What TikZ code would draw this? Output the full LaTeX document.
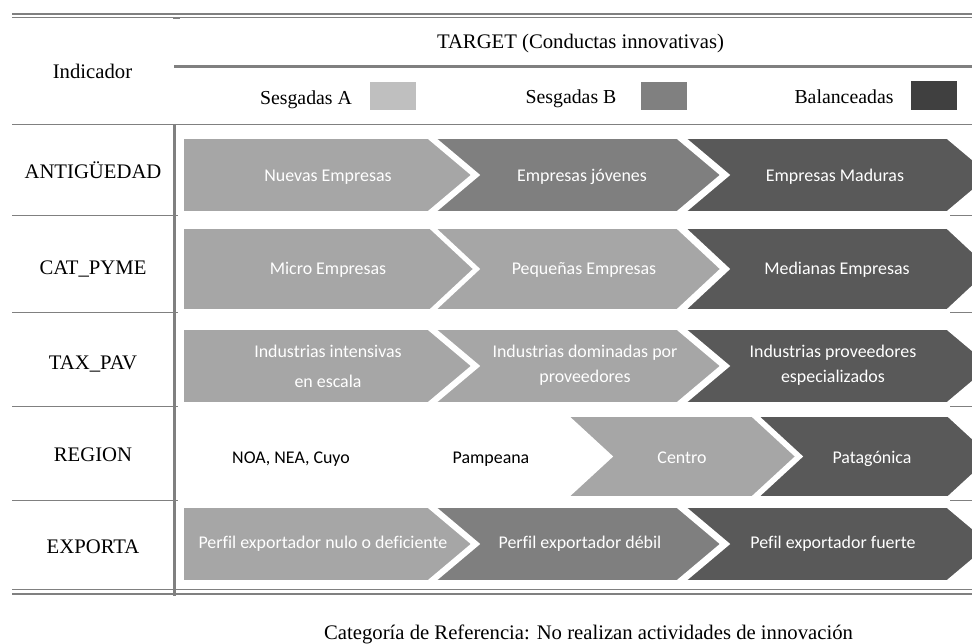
\documentclass[tikz,border=0pt]{standalone}
\usepackage{fontspec}
\setmainfont{Liberation Serif}
\newfontfamily\chevfont[Ligatures=NoCommon]{Carlito}
\definecolor{lightg}{HTML}{A6A6A6}
\definecolor{midg}{HTML}{7F7F7F}
\definecolor{darkg}{HTML}{595959}
\definecolor{legA}{HTML}{BFBFBF}
\definecolor{legB}{HTML}{808080}
\definecolor{legC}{HTML}{404040}
\definecolor{rulec}{HTML}{808080}
\tikzset{
  serif/.style={font=\fontsize{20.7}{24}\selectfont, text=black, inner sep=0pt, anchor=base},
  legtxt/.style={font=\fontsize{19.8}{24}\selectfont, text=black, inner sep=0pt, anchor=base},
  chevtxt/.style={font=\chevfont\fontsize{17.9}{21}\selectfont, text=white, inner sep=0pt, anchor=base},
  plaintxt/.style={font=\chevfont\fontsize{17.9}{21}\selectfont, text=black, inner sep=0pt, anchor=base},
  legbox/.style={minimum width=46pt, minimum height=28.5pt, inner sep=0pt, draw=none},
  chevshape/.style={draw=white, line width=1.6pt, line join=miter},
  rulethin/.style={draw=rulec, line width=0.9pt},
  rulemid/.style={draw=rulec, line width=1.5pt},
  rulethick/.style={draw=rulec, line width=2.4pt},
  rulebold/.style={draw=rulec, line width=3.2pt},
}
\newcommand\chevFlat[5]{\filldraw[chevshape, fill=#5] (#1,#3) -- (#2,#3) -- ({#2+44},{(#3+#4)/2}) -- (#2,#4) -- (#1,#4) -- cycle;}
\newcommand\chevNotch[5]{\filldraw[chevshape, fill=#5] (#1,#3) -- (#2,#3) -- ({#2+44},{(#3+#4)/2}) -- (#2,#4) -- (#1,#4) -- ({#1+44},{(#3+#4)/2}) -- cycle;}
\begin{document}
\begin{tikzpicture}[x=1pt,y=-1pt]
\useasboundingbox (0,0) rectangle (972,644);
\fill[white] (0,0) rectangle (972,644);
\begin{scope}
\clip (0,0) rectangle (972,644);
% ---------- rules ----------
\draw[rulethick] (12,13.8) -- (972,13.8);
\draw[rulethin] (12,17.3) -- (972,17.3);
\draw[rulec, line width=1pt] (173,18.8) -- (180,18.8);
\draw[rulebold] (174,66.7) -- (972,66.7);
\draw[rulemid] (12,124.3) -- (972,124.3);
\draw[rulebold] (174.7,124) -- (174.7,595.5);
\foreach \yy in {215.5,312,406,500}{
  \draw[rulethin] (12,\yy) -- (178,\yy);
  \draw[rulethin] (950,\yy) -- (972,\yy);
}
\draw[rulethin] (12,589) -- (972,589);
\draw[rulethick] (12,594.2) -- (972,594.2);
% ---------- header ----------
\node[serif] (ind) at (92.5,78.3) {Indicador};
\node[serif] (tgt) at (580.5,48.3) {TARGET (Conductas innovativas)};
\node[legtxt] (sa) at (306,104.5) {Sesgadas A};
\node[legbox, fill=legA] (sab) at (393,96) {};
\node[legtxt] (sb) at (571,104) {Sesgadas B};
\node[legbox, fill=legB] (sbb) at (664,96) {};
\node[legtxt] (bal) at (844,104) {Balanceadas};
\node[legbox, fill=legC] (balb) at (934,95.5) {};
% ---------- row labels ----------
\node[serif] (l1) at (93,178.3) {ANTIGÜEDAD};
\node[serif] (l2) at (93,275) {CAT\_PYME};
\node[serif] (l3) at (93,370) {TAX\_PAV};
\node[serif] (l4) at (93,461.7) {REGION};
\node[serif] (l5) at (93,553.3) {EXPORTA};
% ---------- row 1 ----------
\chevFlat{183}{428}{138}{212}{lightg}
\chevNotch{435}{677}{138}{212}{midg}
\chevNotch{685}{947}{138}{212}{darkg}
\node[chevtxt] (a1) at (328,181.5) {Nuevas Empresas};
\node[chevtxt] (a2) at (582,181.5) {Empresas jóvenes};
\node[chevtxt] (a3) at (835,181.5) {Empresas Maduras};
% ---------- row 2 ----------
\chevFlat{183}{430}{228}{310}{lightg}
\chevNotch{435}{677}{228}{310}{lightg}
\chevNotch{685}{947}{228}{310}{darkg}
\node[chevtxt] (b1) at (328,275) {Micro Empresas};
\node[chevtxt] (b2) at (584,275) {Pequeñas Empresas};
\node[chevtxt] (b3) at (837,275) {Medianas Empresas};
% ---------- row 3 ----------
\chevFlat{183}{428}{329}{403}{lightg}
\chevNotch{435}{677}{329}{403}{lightg}
\chevNotch{685}{947}{329}{403}{darkg}
\node[chevtxt] (c1a) at (328,358) {Industrias intensivas};
\node[chevtxt] (c1b) at (328,387) {en escala};
\node[chevtxt] (c2a) at (585,358) {Industrias dominadas por};
\node[chevtxt] (c2b) at (585,382) {proveedores};
\node[chevtxt] (c3a) at (833,358) {Industrias proveedores};
\node[chevtxt] (c3b) at (833,382) {especializados};
% ---------- row 4 ----------
\chevNotch{568}{752}{416}{497}{lightg}
\chevNotch{758}{948}{416}{497}{darkg}
\node[plaintxt] (d1) at (291,463.3) {NOA, NEA, Cuyo};
\node[plaintxt] (d2) at (491,463.3) {Pampeana};
\node[chevtxt] (d3) at (682,463) {Centro};
\node[chevtxt] (d4) at (872,463) {Patagónica};
% ---------- row 5 ----------
\chevFlat{183}{428}{507}{581}{lightg}
\chevNotch{435}{677}{507}{581}{midg}
\chevNotch{685}{947}{507}{581}{darkg}
\node[chevtxt] (e1) at (323,548.5) {Perfil exportador nulo o deficiente};
\node[chevtxt] (e2) at (580,548.5) {Perfil exportador débil};
\node[chevtxt] (e3) at (833,548.5) {Pefil exportador fuerte};
% ---------- caption ----------
\node[serif] (cap) at (588.5,639) {Categoría de Referencia: No realizan actividades de innovación};
\end{scope}
\end{tikzpicture}
\end{document}
